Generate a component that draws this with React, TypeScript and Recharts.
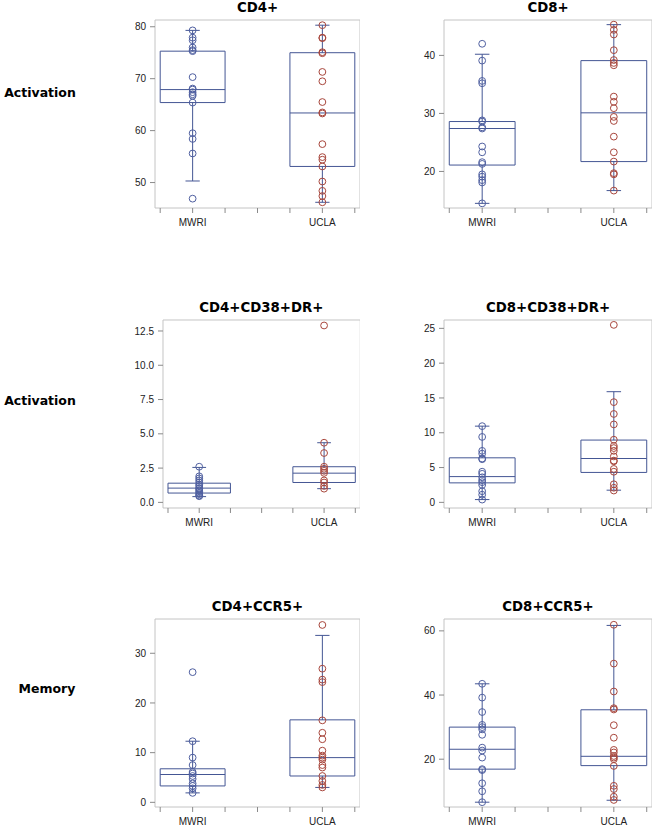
import React from "react";
import {
  ComposedChart, XAxis, YAxis, Scatter, ReferenceArea, ReferenceLine,
} from "recharts";

const GROUPS = ["MWRI", "UCLA"];
const GROUP_X = [1, 3];
const X_TICKS = [0.5, 1, 1.5, 2, 2.5, 3, 3.5];
const X_DOMAIN = [0.42, 3.58];

// values per group, and box stats as [whisker low, Q1, median, Q3, whisker high]
const CD4_MWRI = [79.3, 77.9, 77.4, 76.0, 75.5, 75.3, 70.3, 68.1, 67.9, 67.4, 67.0, 66.7, 65.4, 59.5, 58.4, 55.6, 46.9];
const CD4_UCLA = [80.3, 77.9, 77.8, 75.1, 74.9, 71.3, 69.5, 65.5, 63.5, 63.3, 57.4, 54.9, 54.4, 53.1, 50.2, 48.4, 47.4, 46.2];
const CD4_BOX_MWRI = [50.3, 65.4, 67.9, 75.3, 79.3];
const CD4_BOX_UCLA = [46.2, 53.1, 63.4, 75.0, 80.3];

const CD8_MWRI = [42.0, 39.1, 35.6, 35.2, 28.8, 28.6, 27.6, 27.4, 24.3, 23.3, 21.6, 21.3, 19.5, 19.1, 18.5, 18.1, 14.5];
const CD8_UCLA = [45.3, 44.4, 43.6, 40.9, 39.2, 38.7, 38.3, 32.9, 32.0, 30.9, 29.4, 28.7, 26.0, 23.3, 21.7, 19.7, 19.5, 16.7];
const CD8_BOX_MWRI = [14.5, 21.1, 27.4, 28.6, 40.2];
const CD8_BOX_UCLA = [16.7, 21.7, 30.1, 39.1, 45.3];

const CD4DR_MWRI = [2.6, 1.9, 1.75, 1.6, 1.45, 1.3, 1.2, 1.05, 1.0, 0.9, 0.8, 0.7, 0.6, 0.5, 0.45];
const CD4DR_UCLA = [12.9, 4.35, 3.6, 2.6, 2.45, 2.3, 2.15, 1.6, 1.45, 1.2, 1.0];
const CD4DR_BOX_MWRI = [0.42, 0.68, 1.04, 1.4, 2.55];
const CD4DR_BOX_UCLA = [1.0, 1.45, 2.13, 2.6, 4.35];

const CD8DR_MWRI = [10.95, 9.4, 7.4, 7.0, 6.3, 6.2, 4.4, 4.1, 3.6, 3.2, 2.9, 2.5, 1.6, 1.1, 0.4];
const CD8DR_UCLA = [25.5, 14.4, 12.7, 11.2, 9.0, 8.1, 7.8, 7.4, 6.6, 6.0, 5.9, 4.8, 4.4, 2.6, 2.1, 1.7];
const CD8DR_BOX_MWRI = [0.4, 2.8, 3.7, 6.4, 10.95];
const CD8DR_BOX_UCLA = [1.75, 4.3, 6.3, 8.95, 15.9];

const CD4R5_MWRI = [26.2, 12.3, 9.0, 7.5, 6.1, 5.8, 5.3, 4.7, 3.8, 3.3, 2.8, 1.9];
const CD4R5_UCLA = [35.7, 26.9, 24.7, 24.2, 16.5, 14.0, 12.7, 10.4, 9.4, 9.0, 8.6, 7.5, 7.0, 5.3, 4.3, 3.5, 3.0];
const CD4R5_BOX_MWRI = [1.9, 3.3, 5.6, 6.75, 12.3];
const CD4R5_BOX_UCLA = [3.0, 5.3, 9.0, 16.6, 33.6];

const CD8R5_MWRI = [43.5, 39.2, 34.7, 30.7, 30.0, 29.3, 27.6, 23.6, 22.7, 20.5, 16.9, 16.6, 12.5, 10.0, 6.6];
const CD8R5_UCLA = [61.9, 49.8, 41.1, 35.9, 35.5, 30.6, 26.7, 22.9, 22.1, 21.0, 20.5, 20.0, 17.9, 11.7, 10.7, 8.3, 7.3];
const CD8R5_BOX_MWRI = [6.6, 16.9, 23.1, 30.0, 43.5];
const CD8R5_BOX_UCLA = [7.2, 18.0, 20.9, 35.4, 61.7];

const ROW_LABELS = ["Activation", "Activation", "Memory"];

const BOX_COLOR = "#445694";
const DOT_COLORS = ["#4f5fa0", "#a8463c"];
const FRAME = "#c4c4c4";
const TICK_FONT = "'Liberation Sans', Arial, sans-serif";
const TITLE_FONT = "'DejaVu Sans', sans-serif";

const PANELS = [
  { title: "CD4+", values: [CD4_MWRI, CD4_UCLA], boxes: [CD4_BOX_MWRI, CD4_BOX_UCLA], ticks: [50, 60, 70, 80], domain: [45.1, 81.3], dec: 0, frameL: 155, frameR: 360, frameT: 20 },
  { title: "CD8+", values: [CD8_MWRI, CD8_UCLA], boxes: [CD8_BOX_MWRI, CD8_BOX_UCLA], ticks: [20, 30, 40], domain: [13.7, 46.1], dec: 0, frameL: 444, frameR: 652, frameT: 20 },
  { title: "CD4+CD38+DR+", values: [CD4DR_MWRI, CD4DR_UCLA], boxes: [CD4DR_BOX_MWRI, CD4DR_BOX_UCLA], ticks: [0, 2.5, 5, 7.5, 10, 12.5], domain: [-0.41, 13.3], dec: 1, frameL: 162.7, frameR: 360, frameT: 320 },
  { title: "CD8+CD38+DR+", values: [CD8DR_MWRI, CD8DR_UCLA], boxes: [CD8DR_BOX_MWRI, CD8DR_BOX_UCLA], ticks: [0, 5, 10, 15, 20, 25], domain: [-0.81, 26.2], dec: 0, frameL: 444, frameR: 652, frameT: 320 },
  { title: "CD4+CCR5+", values: [CD4R5_MWRI, CD4R5_UCLA], boxes: [CD4R5_BOX_MWRI, CD4R5_BOX_UCLA], ticks: [0, 10, 20, 30], domain: [-0.94, 36.9], dec: 0, frameL: 155, frameR: 360, frameT: 619 },
  { title: "CD8+CCR5+", values: [CD8R5_MWRI, CD8R5_UCLA], boxes: [CD8R5_BOX_MWRI, CD8R5_BOX_UCLA], ticks: [20, 40, 60], domain: [5.1, 63.7], dec: 0, frameL: 444, frameR: 652, frameT: 619 },
];

const FRAME_H = 188;
const AXIS_W = 50;
const X_AXIS_H = 30;
const BOX_HALF = 0.5;
const CAP_HALF = 0.11;

// eslint-disable-next-line @typescript-eslint/no-explicit-any
const ring = (color: string) => (p: any) => (
  <circle cx={p.cx} cy={p.cy} r={3.4} fill="none" stroke={color} strokeWidth={1} />
);

// eslint-disable-next-line @typescript-eslint/no-explicit-any
function BoxPanel({ p }: { p: any }) {
  const left = p.frameL - AXIS_W;
  const width = p.frameR - left;
  const height = 5 + FRAME_H + X_AXIS_H;
  const tickStyle = { fontSize: 10, fill: "#222", fontFamily: TICK_FONT };

  return (
    <>
      <div style={{
        position: "absolute", left: p.frameL, width: p.frameR - p.frameL, top: p.frameT - 21,
        lineHeight: "18px", textAlign: "center", fontFamily: TITLE_FONT, fontWeight: 700, fontSize: 13.3, color: "#000",
      }}>{p.title}</div>
      <div style={{ position: "absolute", left, top: p.frameT - 5 }}>
        <ComposedChart width={width} height={height} margin={{ top: 5, right: 0, bottom: 0, left: 0 }}>
          <XAxis
            type="number" dataKey="x" domain={X_DOMAIN} ticks={X_TICKS} interval={0} allowDataOverflow
            height={X_AXIS_H} axisLine={false} tickSize={5} tickMargin={6}
            tickLine={{ stroke: "#8a8a8a" }} tick={tickStyle}
            tickFormatter={(v: number) => { const i = GROUP_X.indexOf(v); return i >= 0 ? GROUPS[i] : ""; }}
          />
          <YAxis
            type="number" dataKey="y" domain={p.domain} ticks={p.ticks} interval={0} allowDataOverflow
            width={AXIS_W} axisLine={false} tickSize={5} tickMargin={4}
            tickLine={{ stroke: "#8a8a8a" }} tick={tickStyle}
            tickFormatter={(v: number) => v.toFixed(p.dec)}
          />
          <ReferenceArea x1={X_DOMAIN[0]} x2={X_DOMAIN[1]} y1={p.domain[0]} y2={p.domain[1]}
            fill="none" fillOpacity={0} stroke={FRAME} strokeWidth={1} />
          {p.boxes.map((b: number[], i: number) => {
            const cx = GROUP_X[i];
            return (
              <React.Fragment key={GROUPS[i]}>
                <ReferenceLine segment={[{ x: cx, y: b[0] }, { x: cx, y: b[1] }]} stroke={BOX_COLOR} strokeWidth={1} />
                <ReferenceLine segment={[{ x: cx, y: b[3] }, { x: cx, y: b[4] }]} stroke={BOX_COLOR} strokeWidth={1} />
                <ReferenceLine segment={[{ x: cx - CAP_HALF, y: b[0] }, { x: cx + CAP_HALF, y: b[0] }]} stroke={BOX_COLOR} strokeWidth={1} />
                <ReferenceLine segment={[{ x: cx - CAP_HALF, y: b[4] }, { x: cx + CAP_HALF, y: b[4] }]} stroke={BOX_COLOR} strokeWidth={1} />
                <ReferenceArea x1={cx - BOX_HALF} x2={cx + BOX_HALF} y1={b[1]} y2={b[3]}
                  fill="none" fillOpacity={0} stroke={BOX_COLOR} strokeWidth={1} />
                <ReferenceLine segment={[{ x: cx - BOX_HALF, y: b[2] }, { x: cx + BOX_HALF, y: b[2] }]} stroke={BOX_COLOR} strokeWidth={1} />
              </React.Fragment>
            );
          })}
          {p.values.map((vals: number[], i: number) => (
            <Scatter key={GROUPS[i]} data={vals.map((v) => ({ x: GROUP_X[i], y: v }))}
              shape={ring(DOT_COLORS[i])} isAnimationActive={false} />
          ))}
        </ComposedChart>
      </div>
    </>
  );
}

export default function App() {
  const rowLabelPos = [{ left: 0, top: 84 }, { left: 0, top: 392 }, { left: 7, top: 680 }];
  return (
    <div style={{ position: "absolute", left: 0, top: 0, width: 654, height: 829, background: "#fff" }}>
      {ROW_LABELS.map((label, i) => (
        <div key={i} style={{
          position: "absolute", left: rowLabelPos[i].left, width: 80, top: rowLabelPos[i].top, lineHeight: "18px", textAlign: "center",
          fontFamily: TITLE_FONT, fontWeight: 700, fontSize: 12.5, color: "#000",
        }}>{label}</div>
      ))}
      {PANELS.map((p) => <BoxPanel key={p.title} p={p} />)}
    </div>
  );
}
